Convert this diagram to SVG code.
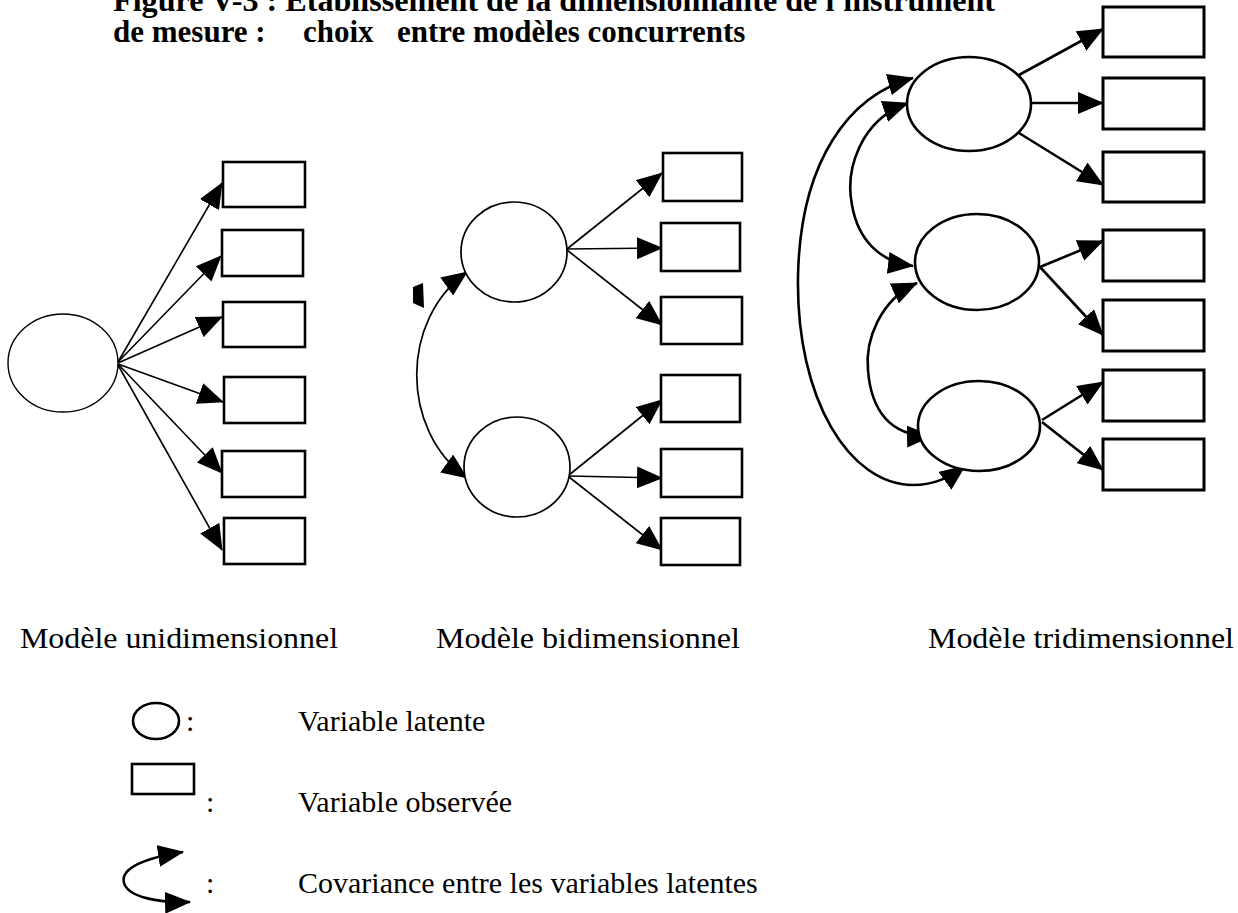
<svg xmlns="http://www.w3.org/2000/svg" width="1238" height="913" viewBox="0 0 1238 913">
<style>
.t{font-family:"Liberation Serif","Times New Roman",serif;fill:#000}
.tb{font-family:"Liberation Serif","Times New Roman",serif;font-weight:bold;fill:#000;font-size:31px}
.lbl{font-size:30px}
.box{fill:#fff;stroke:#000;stroke-width:2.6}
.box3{fill:#fff;stroke:#000;stroke-width:3}
.ell1{fill:#fff;stroke:#000;stroke-width:1.4}
.ell2{fill:#fff;stroke:#000;stroke-width:1.7}
.ell3{fill:#fff;stroke:#000;stroke-width:2.6}
.a1{fill:none;stroke:#000;stroke-width:1.6;marker-end:url(#ah)}
.a2{fill:none;stroke:#000;stroke-width:1.7;marker-end:url(#ah)}
.a3{fill:none;stroke:#000;stroke-width:2.6;marker-end:url(#ah)}
.c2{fill:none;stroke:#000;stroke-width:1.7;marker-start:url(#ah);marker-end:url(#ah)}
.c3{fill:none;stroke:#000;stroke-width:2.6;marker-start:url(#ah);marker-end:url(#ah)}
</style>
<defs>
<marker id="ah" markerUnits="userSpaceOnUse" markerWidth="26" markerHeight="22" refX="25" refY="11" orient="auto-start-reverse">
<path d="M0,0 L26,11 L0,22 z" fill="#000"/>
</marker>
</defs>

<g id="title">
<text class="tb" x="113" y="11" textLength="882" lengthAdjust="spacingAndGlyphs">Figure V-3 : Etablissement de la dimensionnalité de l'instrument</text>
<text class="tb" x="113" y="42">de mesure :</text>
<text class="tb" x="303" y="42">choix</text>
<text class="tb" x="397" y="42">entre modèles concurrents</text>
</g>

<g id="connectors">
<!-- unidimensional -->
<line class="a1" x1="118" y1="362" x2="222" y2="183"/>
<line class="a1" x1="118" y1="362" x2="221" y2="256"/>
<line class="a1" x1="118" y1="363" x2="222" y2="317"/>
<line class="a1" x1="118" y1="364" x2="223" y2="402"/>
<line class="a1" x1="118" y1="364" x2="222" y2="473"/>
<line class="a1" x1="118" y1="365" x2="222" y2="550"/>
<!-- bidimensional -->
<line class="a2" x1="567" y1="249" x2="662" y2="173"/>
<line class="a2" x1="567" y1="249" x2="662" y2="248"/>
<line class="a2" x1="567" y1="250" x2="662" y2="325"/>
<line class="a2" x1="569" y1="475" x2="662" y2="400"/>
<line class="a2" x1="569" y1="476" x2="662" y2="478"/>
<line class="a2" x1="569" y1="477" x2="662" y2="550"/>
<path class="c2" d="M467,272 C400,320 400,430 467,478"/>
<!-- tridimensional -->
<line class="a3" x1="1019" y1="75" x2="1103" y2="29"/>
<line class="a3" x1="1031" y1="103" x2="1103" y2="103"/>
<line class="a3" x1="1019" y1="133" x2="1103" y2="185"/>
<line class="a3" x1="1040" y1="267" x2="1103" y2="241"/>
<line class="a3" x1="1040" y1="267" x2="1103" y2="335"/>
<line class="a3" x1="1042" y1="420" x2="1103" y2="382"/>
<line class="a3" x1="1042" y1="422" x2="1103" y2="470"/>
<path class="c3" d="M913,78 C850,95 800,160 798,277 C796,400 850,485 913,485 C935,485 950,477 965,466"/>
<path class="c3" d="M908,103 C860,120 845,170 852,205 C858,240 880,262 913,266"/>
<path class="c3" d="M917,283 C880,300 865,340 868,370 C871,410 890,437 932,436"/>
</g>

<g id="uni">
<ellipse id="uni-latent" class="ell1" cx="63" cy="363" rx="55" ry="49"/>
<rect id="uni-o1" class="box" x="223" y="162" width="82" height="45"/>
<rect id="uni-o2" class="box" x="222" y="230" width="81" height="46"/>
<rect id="uni-o3" class="box" x="223" y="302" width="82" height="45"/>
<rect id="uni-o4" class="box" x="224" y="377" width="81" height="46"/>
<rect id="uni-o5" class="box" x="222" y="451" width="83" height="46"/>
<rect id="uni-o6" class="box" x="224" y="518" width="81" height="46"/>
</g>

<g id="bi">
<ellipse id="bi-latent1" class="ell2" cx="514" cy="252" rx="53" ry="50"/>
<ellipse id="bi-latent2" class="ell2" cx="517" cy="467" rx="53" ry="50"/>
<rect id="bi-o1" class="box" x="663" y="153" width="79" height="48"/>
<rect id="bi-o2" class="box" x="661" y="223" width="79" height="48"/>
<rect id="bi-o3" class="box" x="661" y="297" width="81" height="47"/>
<rect id="bi-o4" class="box" x="661" y="375" width="79" height="47"/>
<rect id="bi-o5" class="box" x="661" y="449" width="81" height="48"/>
<rect id="bi-o6" class="box" x="661" y="518" width="79" height="47"/>
<polygon id="bi-mark" points="413,287 423,283 424,308 413,303" fill="#000"/>
</g>

<g id="tri">
<ellipse id="tri-latent1" class="ell3" cx="969" cy="104" rx="62" ry="47"/>
<ellipse id="tri-latent2" class="ell3" cx="977" cy="262" rx="62" ry="48"/>
<ellipse id="tri-latent3" class="ell3" cx="979" cy="426" rx="61" ry="45"/>
<rect id="tri-o1" class="box3" x="1103" y="7" width="101" height="50"/>
<rect id="tri-o2" class="box3" x="1103" y="78" width="101" height="51"/>
<rect id="tri-o3" class="box3" x="1103" y="152" width="101" height="50"/>
<rect id="tri-o4" class="box3" x="1103" y="230" width="101" height="51"/>
<rect id="tri-o5" class="box3" x="1103" y="300" width="101" height="51"/>
<rect id="tri-o6" class="box3" x="1103" y="370" width="101" height="51"/>
<rect id="tri-o7" class="box3" x="1103" y="439" width="101" height="51"/>
</g>

<g id="labels">
<text class="t lbl" x="20" y="648" textLength="318" lengthAdjust="spacingAndGlyphs">Modèle unidimensionnel</text>
<text class="t lbl" x="436" y="648" textLength="304" lengthAdjust="spacingAndGlyphs">Modèle bidimensionnel</text>
<text class="t lbl" x="928" y="648" textLength="306" lengthAdjust="spacingAndGlyphs">Modèle tridimensionnel</text>
</g>

<g id="legend">
<g id="legend-latent">
<ellipse class="ell3" cx="156" cy="721" rx="23" ry="18"/>
<text class="t lbl" x="186" y="731">:</text>
<text class="t lbl" x="298" y="731">Variable latente</text>
</g>
<g id="legend-observed">
<rect class="box" x="132" y="764" width="62" height="30"/>
<text class="t lbl" x="206" y="812">:</text>
<text class="t lbl" x="298" y="812">Variable observée</text>
</g>
<g id="legend-cov">
<path class="c3" d="M183,852 C145,858 120,868 124,883 C128,897 158,903 190,902"/>
<text class="t lbl" x="206" y="893">:</text>
<text class="t lbl" x="298" y="893">Covariance entre les variables latentes</text>
</g>
</g>
</svg>
